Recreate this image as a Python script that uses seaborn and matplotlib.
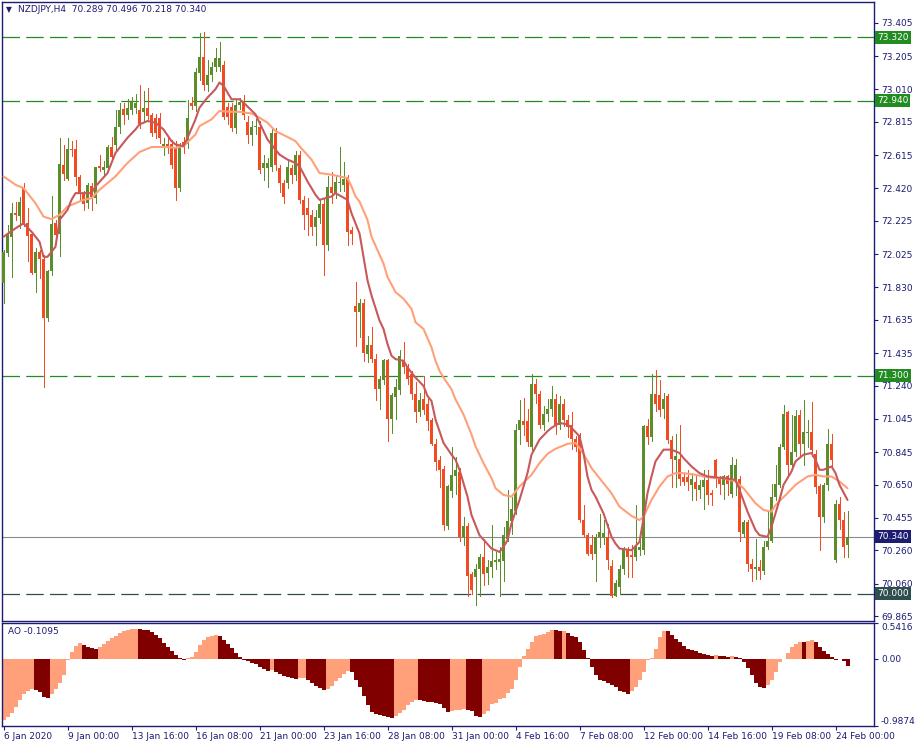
import numpy as np
import pandas as pd
import matplotlib
matplotlib.use("Agg")
import matplotlib.pyplot as plt
import seaborn as sns

# NZDJPY H4 candles (open / high / low / close)
opens = [
    71.855, 72.034, 72.129, 72.272, 72.255, 72.420, 72.209, 72.149, 71.914, 72.036,
    71.996, 71.646, 71.925, 72.209, 72.144, 72.557, 72.477, 72.652, 72.652, 72.487,
    72.388, 72.330, 72.430, 72.358, 72.553, 72.527, 72.537, 72.666, 72.676, 72.786,
    72.890, 72.855, 72.885, 72.895, 72.885, 72.875, 72.895, 72.855, 72.836, 72.836,
    72.666, 72.686, 72.686, 72.666, 72.418, 72.696, 72.686, 72.925, 72.909, 73.108,
    73.204, 73.035, 73.094, 73.144, 73.144, 73.154, 72.905, 72.905, 72.776, 72.915,
    72.935, 72.816, 72.736, 72.786, 72.786, 72.537, 72.537, 72.547, 72.746, 72.537,
    72.448, 72.448, 72.537, 72.497, 72.617, 72.350, 72.300, 72.258, 72.189, 72.244,
    72.328, 72.079, 72.424, 72.392, 72.448, 72.438, 72.487, 72.169, 71.715, 71.681,
    71.735, 71.433, 71.482, 71.403, 71.224, 71.273, 71.393, 71.041, 71.174, 71.214,
    71.397, 71.353, 71.313, 71.194, 71.084, 71.164, 71.134, 71.035, 70.895, 70.796,
    70.746, 70.404, 70.613, 70.700, 70.726, 70.338, 70.402, 70.119, 70.103, 70.149,
    70.219, 70.123, 70.159, 70.189, 70.189, 70.193, 70.328, 70.434, 70.497, 70.979,
    71.030, 71.030, 70.875, 71.254, 71.194, 71.005, 71.074, 71.100, 71.160, 71.005,
    71.134, 71.035, 71.005, 70.925, 70.945, 70.438, 70.348, 70.289, 70.239, 70.340,
    70.338, 70.340, 70.169, 69.990, 70.040, 70.149, 70.259, 70.229, 70.219, 70.259,
    70.259, 70.999, 70.935, 71.190, 71.184, 71.100, 71.178, 70.919, 70.800, 70.806,
    70.696, 70.696, 70.647, 70.667, 70.620, 70.637, 70.677, 70.601, 70.796, 70.696,
    70.647, 70.700, 70.597, 70.677, 70.686, 70.358, 70.428, 70.179, 70.149, 70.159,
    70.139, 70.278, 70.318, 70.577, 70.647, 70.875, 71.084, 70.766, 70.845, 71.064,
    70.895, 70.960, 70.965, 70.835, 70.641, 70.458, 70.647, 70.895, 70.203, 70.537,
    70.438, 70.289,
]
highs = [
    72.050, 72.199, 72.330, 72.338, 72.368, 72.450, 72.300, 72.157, 72.060, 72.050,
    72.020, 71.930, 72.370, 72.229, 72.716, 72.676, 72.716, 72.700, 72.706, 72.500,
    72.400, 72.450, 72.451, 72.547, 72.617, 72.580, 72.676, 72.726, 72.885, 72.925,
    72.925, 72.950, 72.965, 72.980, 73.035, 73.000, 73.015, 72.870, 72.860, 72.870,
    72.720, 72.720, 72.706, 72.700, 72.690, 72.726, 72.945, 72.965, 73.134, 73.343,
    73.350, 73.184, 73.174, 73.253, 73.293, 73.180, 72.930, 72.930, 72.945, 72.960,
    72.975, 72.850, 72.820, 72.830, 72.820, 72.620, 72.600, 72.780, 72.780, 72.560,
    72.470, 72.580, 72.560, 72.640, 72.640, 72.370, 72.360, 72.290, 72.288, 72.350,
    72.360, 72.491, 72.517, 72.491, 72.666, 72.577, 72.500, 72.190, 71.860, 71.761,
    71.760, 71.536, 71.592, 71.430, 71.300, 71.403, 71.400, 71.200, 71.283, 71.452,
    71.502, 71.370, 71.330, 71.263, 71.200, 71.297, 71.160, 71.050, 70.925, 70.820,
    70.760, 70.647, 70.875, 70.816, 70.750, 70.461, 70.420, 70.130, 70.179, 70.239,
    70.328, 70.199, 70.408, 70.249, 70.278, 70.398, 70.617, 70.577, 71.015, 71.154,
    71.170, 71.100, 71.313, 71.284, 71.210, 71.120, 71.160, 71.240, 71.194, 71.180,
    71.160, 71.064, 71.084, 70.940, 70.960, 70.527, 70.360, 70.348, 70.358, 70.477,
    70.440, 70.418, 70.200, 70.080, 70.170, 70.279, 70.280, 70.290, 70.527, 70.328,
    71.010, 71.040, 71.313, 71.333, 71.273, 71.200, 71.190, 70.940, 70.955, 71.005,
    70.720, 70.740, 70.720, 70.700, 70.680, 70.736, 70.736, 70.620, 70.806, 70.700,
    70.706, 70.710, 70.816, 70.806, 70.700, 70.438, 70.438, 70.209, 70.328, 70.199,
    70.318, 70.487, 70.657, 70.766, 70.895, 71.124, 71.090, 71.064, 71.094, 71.094,
    71.154, 71.035, 71.144, 70.860, 70.657, 70.660, 70.985, 70.955, 70.560, 70.577,
    70.487, 70.496,
]
lows = [
    71.735, 72.014, 71.890, 72.229, 72.181, 72.193, 71.984, 71.906, 71.800, 71.885,
    71.234, 71.628, 71.900, 72.130, 72.016, 72.467, 72.467, 72.610, 72.438, 72.348,
    72.288, 72.300, 72.290, 72.330, 72.520, 72.500, 72.520, 72.590, 72.650, 72.750,
    72.800, 72.830, 72.860, 72.870, 72.780, 72.820, 72.820, 72.730, 72.720, 72.690,
    72.620, 72.630, 72.540, 72.348, 72.400, 72.630, 72.660, 72.890, 72.880, 73.064,
    73.005, 73.000, 73.060, 73.120, 73.120, 72.830, 72.800, 72.760, 72.750, 72.890,
    72.830, 72.690, 72.680, 72.740, 72.510, 72.470, 72.428, 72.520, 72.530, 72.398,
    72.330, 72.420, 72.450, 72.470, 72.330, 72.179, 72.140, 72.140, 72.079, 72.210,
    71.900, 72.050, 72.330, 72.360, 72.400, 72.400, 72.079, 72.089, 71.476, 71.532,
    71.389, 71.383, 71.380, 71.154, 71.104, 71.250, 70.911, 70.959, 71.045, 71.190,
    71.320, 71.250, 71.160, 71.025, 71.060, 71.070, 70.979, 70.885, 70.736, 70.637,
    70.378, 70.388, 70.577, 70.597, 70.318, 70.294, 69.990, 70.000, 69.936, 69.990,
    70.050, 70.059, 70.099, 70.150, 69.990, 70.079, 70.318, 70.358, 70.477, 70.895,
    70.950, 70.880, 70.860, 71.140, 70.990, 70.980, 71.030, 71.060, 70.955, 70.985,
    71.000, 70.935, 70.866, 70.850, 70.430, 70.338, 70.229, 70.209, 70.079, 70.278,
    70.300, 70.150, 69.984, 69.985, 70.000, 70.120, 70.099, 70.103, 70.199, 70.230,
    70.239, 70.895, 70.910, 71.090, 71.060, 71.050, 70.900, 70.637, 70.637, 70.647,
    70.647, 70.620, 70.557, 70.557, 70.570, 70.507, 70.537, 70.527, 70.637, 70.597,
    70.567, 70.587, 70.577, 70.587, 70.318, 70.338, 70.139, 70.079, 70.089, 70.089,
    70.119, 70.268, 70.308, 70.557, 70.637, 70.865, 70.696, 70.756, 70.820, 70.816,
    70.766, 70.875, 70.820, 70.600, 70.259, 70.430, 70.620, 70.756, 70.189, 70.388,
    70.219, 70.218,
]
closes = [
    72.040, 72.139, 72.269, 72.258, 72.338, 72.199, 72.135, 71.914, 72.036, 71.996,
    71.646, 71.925, 72.205, 72.139, 72.563, 72.503, 72.652, 72.646, 72.487, 72.388,
    72.328, 72.437, 72.368, 72.543, 72.541, 72.543, 72.666, 72.607, 72.786, 72.885,
    72.855, 72.895, 72.935, 72.929, 72.800, 72.895, 72.851, 72.746, 72.746, 72.716,
    72.686, 72.666, 72.557, 72.418, 72.666, 72.666, 72.836, 72.909, 73.114, 73.204,
    73.035, 73.094, 73.144, 73.194, 73.194, 72.845, 72.845, 72.776, 72.915, 72.935,
    72.855, 72.736, 72.786, 72.790, 72.527, 72.567, 72.567, 72.746, 72.557, 72.448,
    72.368, 72.547, 72.497, 72.617, 72.350, 72.258, 72.258, 72.189, 72.248, 72.328,
    72.079, 72.428, 72.392, 72.458, 72.458, 72.477, 72.159, 72.149, 71.681, 71.735,
    71.437, 71.482, 71.403, 71.224, 71.283, 71.393, 71.041, 71.184, 71.234, 71.417,
    71.353, 71.283, 71.194, 71.084, 71.154, 71.094, 71.031, 70.895, 70.786, 70.736,
    70.408, 70.641, 70.706, 70.736, 70.338, 70.402, 70.109, 70.024, 70.149, 70.219,
    70.119, 70.163, 70.193, 70.203, 70.207, 70.348, 70.437, 70.507, 70.979, 71.035,
    71.010, 70.905, 71.254, 71.194, 71.005, 71.074, 71.104, 71.160, 71.005, 71.134,
    71.035, 70.995, 70.925, 70.875, 70.438, 70.348, 70.239, 70.239, 70.342, 70.368,
    70.362, 70.200, 69.990, 70.064, 70.149, 70.259, 70.219, 70.219, 70.279, 70.279,
    70.999, 70.935, 71.190, 71.130, 71.094, 71.160, 70.915, 70.806, 70.820, 70.687,
    70.667, 70.667, 70.686, 70.627, 70.647, 70.677, 70.587, 70.587, 70.696, 70.657,
    70.700, 70.657, 70.766, 70.766, 70.368, 70.428, 70.179, 70.149, 70.159, 70.139,
    70.278, 70.318, 70.577, 70.657, 70.875, 71.074, 70.766, 70.845, 71.060, 70.895,
    70.965, 70.965, 70.855, 70.637, 70.458, 70.647, 70.895, 70.796, 70.537, 70.438,
    70.279, 70.340,
]

# moving averages, read at selected bars
fast_bars = [
    0, 3, 5, 7, 9, 10, 11, 13, 14, 16,
    17, 18, 22, 23, 26, 28, 31, 33, 34, 36,
    38, 40, 42, 43, 45, 46, 48, 49, 51, 53,
    54, 55, 56, 57, 59, 60, 63, 64, 66, 68,
    69, 71, 73, 74, 76, 78, 79, 82, 83, 86,
    87, 89, 90, 91, 92, 94, 95, 96, 97, 98,
    100, 101, 103, 105, 106, 107, 108, 110, 112, 113,
    114, 116, 117, 119, 122, 124, 125, 126, 127, 129,
    131, 132, 134, 136, 137, 139, 141, 142, 144, 145,
    146, 147, 148, 149, 150, 152, 153, 154, 157, 159,
    160, 161, 162, 163, 165, 167, 169, 170, 172, 174,
    176, 180, 183, 184, 186, 188, 189, 191, 192, 194,
    195, 197, 198, 200, 202, 203, 204, 205, 207, 208,
    209, 211,
]
fast_ma = [
    72.13, 72.18, 72.21, 72.16, 72.10, 72.01, 72.01, 72.07, 72.23, 72.29,
    72.35, 72.39, 72.39, 72.43, 72.51, 72.63, 72.72, 72.77, 72.80, 72.82,
    72.81, 72.77, 72.70, 72.68, 72.67, 72.72, 72.83, 72.90, 72.96, 73.01,
    73.05, 73.03, 72.99, 72.95, 72.95, 72.93, 72.86, 72.81, 72.71, 72.65,
    72.62, 72.59, 72.57, 72.55, 72.46, 72.38, 72.35, 72.37, 72.39, 72.35,
    72.27, 72.15, 72.01, 71.87, 71.78, 71.63, 71.58, 71.49, 71.42, 71.40,
    71.39, 71.35, 71.29, 71.24, 71.18, 71.15, 71.04, 70.90, 70.83, 70.80,
    70.74, 70.58, 70.47, 70.35, 70.27, 70.25, 70.28, 70.32, 70.42, 70.56,
    70.72, 70.83, 70.92, 70.97, 70.99, 71.02, 71.01, 70.99, 70.94, 70.84,
    70.70, 70.62, 70.58, 70.53, 70.48, 70.34, 70.30, 70.27, 70.26, 70.31,
    70.45, 70.60, 70.70, 70.79, 70.86, 70.86, 70.84, 70.81, 70.76, 70.72,
    70.70, 70.69, 70.68, 70.62, 70.49, 70.38, 70.35, 70.34, 70.40, 70.56,
    70.65, 70.73, 70.79, 70.83, 70.84, 70.80, 70.74, 70.74, 70.76, 70.72,
    70.65, 70.56,
]
slow_bars = [
    0, 3, 5, 6, 8, 9, 10, 12, 14, 16,
    18, 20, 22, 24, 26, 28, 31, 34, 37, 41,
    43, 45, 48, 49, 52, 54, 57, 59, 62, 64,
    66, 68, 71, 73, 74, 77, 79, 82, 84, 86,
    87, 88, 89, 91, 92, 95, 96, 98, 100, 102,
    103, 105, 107, 108, 109, 110, 112, 113, 115, 117,
    118, 120, 122, 123, 125, 127, 128, 129, 132, 134,
    136, 138, 141, 143, 144, 145, 147, 149, 152, 154,
    157, 159, 160, 162, 164, 166, 168, 170, 173, 175,
    178, 180, 183, 185, 188, 190, 192, 193, 196, 198,
    201, 203, 205, 207, 209, 211,
]
slow_ma = [
    72.49, 72.44, 72.42, 72.39, 72.33, 72.29, 72.25, 72.235, 72.26, 72.31,
    72.33, 72.35, 72.36, 72.41, 72.45, 72.49, 72.57, 72.635, 72.665, 72.665,
    72.66, 72.67, 72.74, 72.79, 72.83, 72.88, 72.875, 72.875, 72.865, 72.84,
    72.81, 72.76, 72.725, 72.70, 72.67, 72.59, 72.51, 72.50, 72.49, 72.48,
    72.43, 72.37, 72.34, 72.23, 72.13, 71.97, 71.89, 71.80, 71.76, 71.70,
    71.62, 71.58, 71.47, 71.39, 71.33, 71.29, 71.22, 71.16, 71.07, 70.95,
    70.88, 70.78, 70.69, 70.63, 70.59, 70.58, 70.61, 70.64, 70.71, 70.78,
    70.835, 70.865, 70.895, 70.90, 70.87, 70.835, 70.75, 70.69, 70.60, 70.52,
    70.465, 70.44, 70.46, 70.56, 70.64, 70.70, 70.72, 70.72, 70.71, 70.70,
    70.69, 70.69, 70.67, 70.63, 70.54, 70.50, 70.49, 70.53, 70.60, 70.65,
    70.70, 70.71, 70.70, 70.70, 70.67, 70.63,
]

# Awesome Oscillator, one value per candle
ao_values = [
    -0.905, -0.867, -0.809, -0.711, -0.614, -0.517, -0.478, -0.449, -0.459, -0.488,
    -0.566, -0.585, -0.527, -0.440, -0.357, -0.236, -0.018, 0.104, 0.191, 0.230,
    0.201, 0.181, 0.167, 0.152, 0.177, 0.220, 0.269, 0.308, 0.346, 0.380,
    0.410, 0.429, 0.439, 0.443, 0.440, 0.437, 0.424, 0.395, 0.356, 0.308,
    0.240, 0.177, 0.123, 0.065, 0.016, -0.013, 0.016, 0.026, 0.104, 0.201,
    0.283, 0.322, 0.337, 0.356, 0.337, 0.288, 0.225, 0.162, 0.094, 0.026,
    -0.008, -0.037, -0.056, -0.081, -0.119, -0.153, -0.182, -0.168, -0.197, -0.216,
    -0.246, -0.265, -0.284, -0.304, -0.284, -0.275, -0.314, -0.357, -0.396, -0.430,
    -0.459, -0.440, -0.401, -0.333, -0.275, -0.221, -0.178, -0.197, -0.309, -0.420,
    -0.551, -0.682, -0.784, -0.818, -0.838, -0.847, -0.862, -0.876, -0.847, -0.809,
    -0.755, -0.682, -0.634, -0.605, -0.610, -0.619, -0.634, -0.643, -0.653, -0.673,
    -0.726, -0.794, -0.770, -0.760, -0.750, -0.740, -0.750, -0.779, -0.843, -0.867,
    -0.818, -0.779, -0.673, -0.648, -0.600, -0.576, -0.503, -0.440, -0.309, -0.115,
    0.041, 0.143, 0.259, 0.337, 0.356, 0.371, 0.405, 0.430, 0.425, 0.415,
    0.420, 0.385, 0.347, 0.322, 0.249, 0.128, 0.016, -0.115, -0.245, -0.309,
    -0.333, -0.357, -0.381, -0.420, -0.469, -0.493, -0.513, -0.479, -0.420, -0.309,
    -0.187, -0.018, 0.016, 0.152, 0.322, 0.419, 0.410, 0.356, 0.298, 0.249,
    0.186, 0.152, 0.133, 0.114, 0.094, 0.070, 0.055, 0.050, 0.055, 0.045,
    0.041, 0.036, 0.045, 0.031, 0.016, -0.042, -0.139, -0.236, -0.357, -0.420,
    -0.430, -0.381, -0.309, -0.187, -0.042, 0.007, 0.094, 0.177, 0.225, 0.255,
    0.245, 0.274, 0.288, 0.259, 0.177, 0.114, 0.075, 0.036, -0.010, -0.005,
    -0.035, -0.1095,
]

date_labels = ['6 Jan 2020', '9 Jan 00:00', '13 Jan 16:00', '16 Jan 08:00',
               '21 Jan 00:00', '23 Jan 16:00', '28 Jan 08:00', '31 Jan 00:00',
               '4 Feb 16:00', '7 Feb 08:00', '12 Feb 00:00', '14 Feb 16:00',
               '19 Feb 08:00', '24 Feb 00:00']
price_ticks = [73.405, 73.205, 73.010, 72.815, 72.615, 72.420, 72.225, 72.025,
               71.830, 71.635, 71.435, 71.240, 71.045, 70.845, 70.650, 70.455,
               70.260, 70.060, 69.865]
green_levels = [73.320, 72.940, 71.300]
support_level = 70.000
last_price = 70.340
title_text = 'NZDJPY,H4  70.289 70.496 70.218 70.340'
ao_text = 'AO -0.1095'

sns.set_theme(style="white")
plt.rcParams['font.family'] = ['DejaVu Sans']

NAVY = '#1c1c72'
BULL = '#5b8e2a'
BEAR = '#f24a21'
LEVEL_GREEN = '#228b22'
FS = 6.5

W, H = 915, 746
fig = plt.figure(figsize=(W / 100, H / 100), dpi=100)


def px_axes(x0, y0, x1, y1):
    return fig.add_axes([x0 / W, 1 - y1 / H, (x1 - x0) / W, (y1 - y0) / H])


ax = px_axes(2, 2, 874, 620.5)
ax2 = px_axes(2, 622.5, 874, 725.5)
XLIM = (-0.375, 217.625)   # candle centres on pixel centres, 4 px apart

# candles
df = pd.DataFrame({'open': opens, 'high': highs, 'low': lows, 'close': closes})
df['bar'] = np.arange(len(df))
colors = np.where(df['close'] >= df['open'], BULL, BEAR)
ax.vlines(df['bar'], df['low'], df['high'], colors=colors, lw=0.72,
          antialiased=False, zorder=3)
body_lo = df[['open', 'close']].min(axis=1)
body_h = (df['close'] - df['open']).abs().clip(lower=0.006)
ax.bar(df['bar'], body_h, bottom=body_lo, width=0.75, color=colors,
       linewidth=0, antialiased=False, zorder=3)

# moving averages
sns.lineplot(x=slow_bars, y=slow_ma, ax=ax, color='#ffa07a', lw=1.5, zorder=4)
sns.lineplot(x=fast_bars, y=fast_ma, ax=ax, color='#c8585a', lw=1.5, zorder=4)

# horizontal levels
for lv in green_levels:
    ax.axhline(lv, color=LEVEL_GREEN, lw=0.9, dashes=(14, 5), zorder=1)
ax.axhline(support_level, color='#2f4f4f', lw=0.9, dashes=(14, 5), zorder=1)
ax.axhline(last_price, color='#8a8a8a', lw=0.8, zorder=1)

ax.set_xlim(*XLIM)
ax.set_ylim(69.841, 73.530)
ax.set_xticks([])
ax.yaxis.tick_right()
ax.set_yticks(price_ticks)
ax.set_yticklabels([f'{t:.3f}' for t in price_ticks])
ax.tick_params(axis='y', direction='out', length=3, width=0.8, color=NAVY,
               labelcolor=NAVY, labelsize=FS, pad=2)
ax.set_xlabel('')
ax.set_ylabel('')

ytrans = ax.get_yaxis_transform()
box_labels = [(lv, LEVEL_GREEN) for lv in green_levels]
box_labels += [(last_price, '#1c1c72'), (support_level, '#2f4f4f')]
for lv, fc in box_labels:
    ax.text(1.0035, lv, f'{lv:.3f}', transform=ytrans, ha='left', va='center',
            color='white', fontsize=FS, zorder=10, clip_on=False,
            bbox=dict(boxstyle='square,pad=0.22', fc=fc, ec='none'))

# Awesome Oscillator panel
ao_df = pd.DataFrame({'bar': np.arange(len(ao_values)), 'ao': ao_values})
ao_df['dir'] = np.where(ao_df['ao'].diff().fillna(1) >= 0, 'up', 'down')
sns.barplot(data=ao_df, x='bar', y='ao', hue='dir',
            palette={'up': '#ffa07a', 'down': '#800000'}, native_scale=True,
            width=1.0, dodge=False, legend=False, ax=ax2, linewidth=0,
            saturation=1, errorbar=None)
ax2.set_xlim(*XLIM)
ax2.set_ylim(-0.9874, 0.5416)
ax2.set_xlabel('')
ax2.set_ylabel('')
ax2.yaxis.tick_right()
ax2.set_yticks([0.5416, 0.0, -0.9874])
ax2.set_yticklabels(['0.5416', '0.00', '-0.9874'])
ylabs = ax2.get_yticklabels()
ylabs[0].set_va('top')
ylabs[2].set_va('bottom')
ax2.tick_params(axis='y', direction='out', length=3, width=0.8, color=NAVY,
                labelcolor=NAVY, labelsize=FS, pad=2)

ax2.set_xticks(np.arange(0, len(ao_values), 16))
ax2.set_xticklabels(date_labels)
for lab in ax2.get_xticklabels():
    lab.set_ha('left')
ax2.tick_params(axis='x', direction='out', length=3, width=0.8, color=NAVY,
                labelcolor=NAVY, labelsize=FS, pad=2, bottom=True)

for a in (ax, ax2):
    a.grid(False)
    a.set_facecolor('white')
    for sp in a.spines.values():
        sp.set_color(NAVY)
        sp.set_linewidth(1.0)

# headers
fig.text(6 / W, 1 - 10 / H, '\u25bc', fontsize=5.5, color=NAVY, va='center')
fig.text(18 / W, 1 - 10 / H, title_text, fontsize=FS, color=NAVY, va='center')
fig.text(8 / W, 1 - 631 / H, ao_text, fontsize=FS, color=NAVY, va='center')

fig.savefig('out.png', dpi=100, facecolor='white')
